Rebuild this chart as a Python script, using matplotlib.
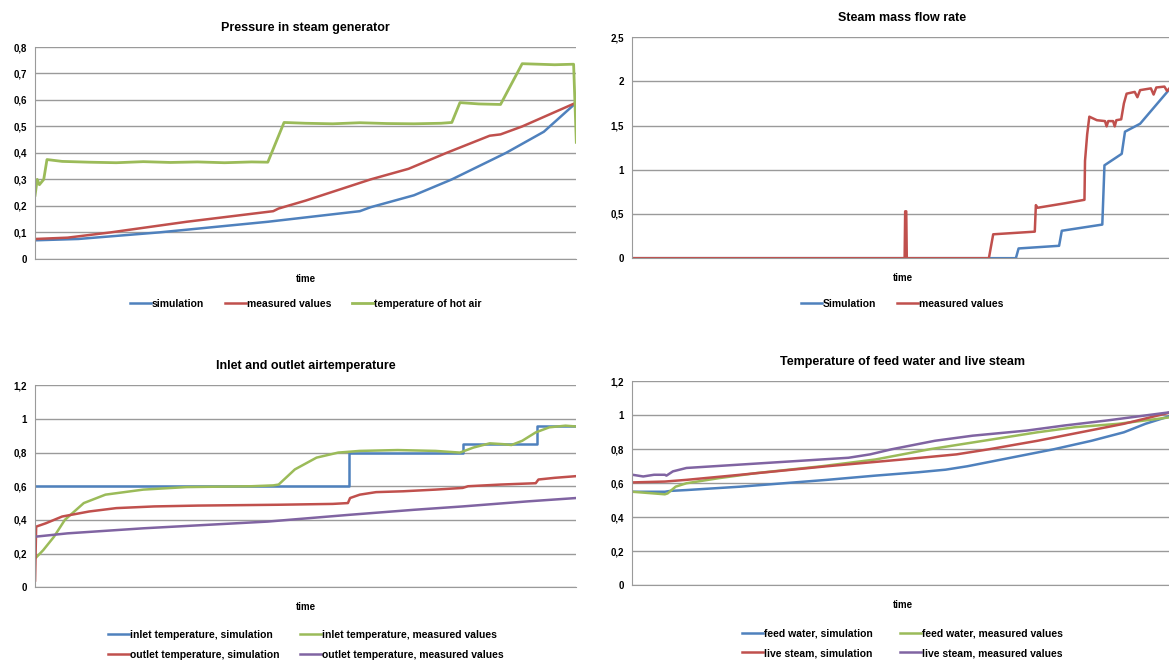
"""Four Excel-style comparison charts: simulation vs measured values (normalised)."""

import matplotlib
matplotlib.use('Agg')
import matplotlib.pyplot as plt
from matplotlib.ticker import FuncFormatter

BLUE, RED, GREEN, PURPLE = '#4F81BD', '#C0504D', '#9BBB59', '#8064A2'

# ---- Pressure in steam generator ----------------------------------------
p_sim_t = [0, 0.08, 0.23, 0.43, 0.60, 0.62, 0.70, 0.77, 0.87, 0.94, 1.0]
p_sim_v = [0.07, 0.075, 0.10, 0.14, 0.18, 0.195, 0.24, 0.30, 0.40, 0.48, 0.59]
p_meas_t = [0, 0.06, 0.14, 0.28, 0.44, 0.45, 0.50, 0.62, 0.69, 0.76, 0.84, 0.86, 0.90, 1.0]
p_meas_v = [0.075, 0.08, 0.10, 0.14, 0.18, 0.19, 0.22, 0.30, 0.34, 0.40, 0.465, 0.47, 0.50, 0.59]
p_air_t = [0, 0.004, 0.008, 0.012, 0.016, 0.022, 0.05, 0.10, 0.15, 0.20, 0.25, 0.30,
           0.35, 0.40, 0.43, 0.46, 0.50, 0.55, 0.60, 0.65, 0.70, 0.75, 0.77, 0.785,
           0.82, 0.86, 0.90, 0.93, 0.96, 0.995, 1.0]
p_air_v = [0.24, 0.30, 0.28, 0.29, 0.30, 0.375, 0.368, 0.365, 0.363, 0.367, 0.364, 0.366,
           0.363, 0.366, 0.365, 0.515, 0.512, 0.510, 0.514, 0.511, 0.510, 0.512, 0.515, 0.59,
           0.585, 0.583, 0.737, 0.735, 0.733, 0.735, 0.44]

# ---- Steam mass flow rate -----------------------------------------------
f_sim_t = [0, 0.71, 0.715, 0.79, 0.795, 0.87, 0.874, 0.906, 0.912, 0.94, 1.0]
f_sim_v = [0, 0, 0.11, 0.14, 0.31, 0.38, 1.05, 1.18, 1.43, 1.52, 1.95]
f_meas_t = [0, 0.504, 0.505, 0.507, 0.508, 0.660, 0.668, 0.745, 0.747, 0.75, 0.80, 0.837,
            0.838, 0.842, 0.846, 0.86, 0.875, 0.878, 0.881, 0.89, 0.893, 0.896, 0.905, 0.91,
            0.915, 0.93, 0.935, 0.94, 0.96, 0.965, 0.97, 0.985, 0.99, 1.0]
f_meas_v = [0, 0, 0.53, 0.53, 0, 0, 0.27, 0.30, 0.60, 0.57, 0.62, 0.66,
            1.10, 1.40, 1.60, 1.56, 1.55, 1.49, 1.55, 1.55, 1.49, 1.56, 1.57, 1.75,
            1.86, 1.88, 1.82, 1.90, 1.92, 1.85, 1.93, 1.94, 1.89, 1.96]

# ---- Inlet and outlet air temperature -----------------------------------
a_in_sim_t = [0, 0.58, 0.58, 0.79, 0.79, 0.928, 0.928, 1.0]
a_in_sim_v = [0.60, 0.60, 0.80, 0.80, 0.85, 0.85, 0.96, 0.96]
a_in_meas_t = [0, 0.015, 0.035, 0.055, 0.09, 0.13, 0.20, 0.28, 0.40, 0.44, 0.45, 0.48,
               0.52, 0.56, 0.60, 0.67, 0.74, 0.785, 0.81, 0.84, 0.865, 0.88, 0.90, 0.925,
               0.95, 0.98, 1.0]
a_in_meas_v = [0.17, 0.22, 0.30, 0.40, 0.50, 0.55, 0.58, 0.595, 0.60, 0.605, 0.61, 0.70,
               0.77, 0.80, 0.81, 0.815, 0.81, 0.80, 0.83, 0.855, 0.85, 0.845, 0.87, 0.92,
               0.95, 0.96, 0.955]
a_out_sim_t = [0, 0.002, 0.02, 0.05, 0.10, 0.15, 0.22, 0.30, 0.45, 0.55, 0.578, 0.582,
               0.60, 0.63, 0.68, 0.74, 0.79, 0.80, 0.86, 0.925, 0.93, 0.96, 1.0]
a_out_sim_v = [0.04, 0.36, 0.38, 0.42, 0.45, 0.47, 0.48, 0.485, 0.49, 0.495, 0.50, 0.53,
               0.55, 0.565, 0.57, 0.58, 0.59, 0.60, 0.61, 0.618, 0.64, 0.65, 0.66]
a_out_meas_t = [0, 0.06, 0.20, 0.43, 0.58, 0.70, 0.79, 0.91, 1.0]
a_out_meas_v = [0.30, 0.32, 0.35, 0.39, 0.43, 0.46, 0.48, 0.51, 0.53]

# ---- Temperature of feed water and live steam ---------------------------
w_sim_t = [0, 0.06, 0.07, 0.10, 0.20, 0.28, 0.36, 0.45, 0.53, 0.58, 0.62, 0.70, 0.78,
           0.85, 0.91, 0.95, 1.0]
w_sim_v = [0.55, 0.55, 0.555, 0.56, 0.58, 0.60, 0.62, 0.645, 0.665, 0.68, 0.70, 0.75, 0.80,
           0.85, 0.90, 0.95, 1.0]
w_meas_t = [0, 0.04, 0.06, 0.065, 0.08, 0.10, 0.16, 0.23, 0.35, 0.45, 0.55, 0.63, 0.75,
            0.82, 0.90, 1.0]
w_meas_v = [0.55, 0.54, 0.535, 0.54, 0.58, 0.60, 0.63, 0.66, 0.70, 0.74, 0.80, 0.84, 0.90,
            0.93, 0.95, 0.99]
s_sim_t = [0, 0.06, 0.10, 0.20, 0.36, 0.50, 0.60, 0.66, 0.75, 0.83, 0.91, 1.0]
s_sim_v = [0.605, 0.61, 0.62, 0.65, 0.70, 0.74, 0.77, 0.80, 0.85, 0.90, 0.95, 1.02]
s_meas_t = [0, 0.02, 0.04, 0.06, 0.063, 0.075, 0.10, 0.15, 0.25, 0.40, 0.44, 0.48, 0.56,
            0.63, 0.73, 0.80, 0.88, 1.0]
s_meas_v = [0.65, 0.64, 0.65, 0.65, 0.645, 0.67, 0.69, 0.70, 0.72, 0.75, 0.77, 0.80, 0.85,
            0.88, 0.91, 0.94, 0.97, 1.02]

FONT = 'Liberation Sans'
comma = FuncFormatter(lambda v, _: f'{v:g}'.replace('.', ','))


def _style(ax, ymax, ystep, title, title_y):
    ax.set_xlim(0, 1)
    ax.set_ylim(0, ymax)
    n = int(round(ymax / ystep))
    ax.set_yticks([i * ystep for i in range(n + 1)])
    ax.yaxis.set_major_formatter(comma)
    ax.set_xticks([])
    ax.grid(axis='y', color='#9a9a9a', lw=1)
    ax.set_axisbelow(True)
    ax.spines[['top', 'right']].set_visible(False)
    ax.spines[['left', 'bottom']].set_color('#9a9a9a')
    ax.tick_params(axis='y', length=0, pad=6, labelsize=7)
    for lab in ax.get_yticklabels():
        lab.set_fontweight('bold')
        lab.set_family(FONT)
    ax.set_title(title, fontsize=9, fontweight='bold', family=FONT, y=title_y)
    ax.set_xlabel('time', fontsize=7, fontweight='bold', family=FONT, labelpad=11)


def _legend(ax, ncol, y, order=None, colsp=2.5):
    handles, labels = ax.get_legend_handles_labels()
    if order:
        handles = [handles[i] for i in order]
        labels = [labels[i] for i in order]
    ax.legend(handles, labels, loc='upper center', bbox_to_anchor=(0.5, y), ncol=ncol,
              frameon=False, handlelength=2.0, handletextpad=0.1, columnspacing=colsp,
              labelspacing=0.95, prop={'family': FONT, 'weight': 'bold', 'size': 7.5})


fig = plt.figure(figsize=(11.69, 6.62), dpi=100)

ax1 = fig.add_axes([0.030, 0.609, 0.463, 0.320])
ax1.plot(p_sim_t, p_sim_v, color=BLUE, lw=1.8, label='simulation')
ax1.plot(p_meas_t, p_meas_v, color=RED, lw=1.8, label='measured values')
ax1.plot(p_air_t, p_air_v, color=GREEN, lw=2.0, label='temperature of hot air')
_style(ax1, 0.8, 0.1, 'Pressure in steam generator', 1.035)
_legend(ax1, 3, -0.145, colsp=2.0)

ax2 = fig.add_axes([0.541, 0.610, 0.462, 0.334])
ax2.plot(f_sim_t, f_sim_v, color=BLUE, lw=1.8, label='Simulation')
ax2.plot(f_meas_t, f_meas_v, color=RED, lw=1.8, label='measured values')
_style(ax2, 2.5, 0.5, 'Steam mass flow rate', 1.035)
_legend(ax2, 2, -0.14, colsp=2.0)

ax3 = fig.add_axes([0.030, 0.113, 0.463, 0.305])
ax3.plot(a_in_sim_t, a_in_sim_v, color=BLUE, lw=1.8, label='inlet temperature, simulation')
ax3.plot(a_in_meas_t, a_in_meas_v, color=GREEN, lw=1.8,
         label='inlet temperature, measured values')
ax3.plot(a_out_sim_t, a_out_sim_v, color=RED, lw=1.8, label='outlet temperature, simulation')
ax3.plot(a_out_meas_t, a_out_meas_v, color=PURPLE, lw=1.8,
         label='outlet temperature, measured values')
_style(ax3, 1.2, 0.2, 'Inlet and outlet airtemperature', 1.04)
_legend(ax3, 2, -0.165, order=[0, 2, 1, 3], colsp=2.0)

ax4 = fig.add_axes([0.541, 0.116, 0.462, 0.308])
ax4.plot(w_sim_t, w_sim_v, color=BLUE, lw=1.8, label='feed water, simulation')
ax4.plot(w_meas_t, w_meas_v, color=GREEN, lw=1.8, label='feed water, measured values')
ax4.plot(s_sim_t, s_sim_v, color=RED, lw=1.8, label='live steam, simulation')
ax4.plot(s_meas_t, s_meas_v, color=PURPLE, lw=1.8, label='live steam, measured values')
_style(ax4, 1.2, 0.2, 'Temperature of feed water and live steam', 1.04)
_legend(ax4, 2, -0.165, order=[0, 2, 1, 3], colsp=2.6)

fig.savefig('out.png', dpi=100, facecolor='white')
